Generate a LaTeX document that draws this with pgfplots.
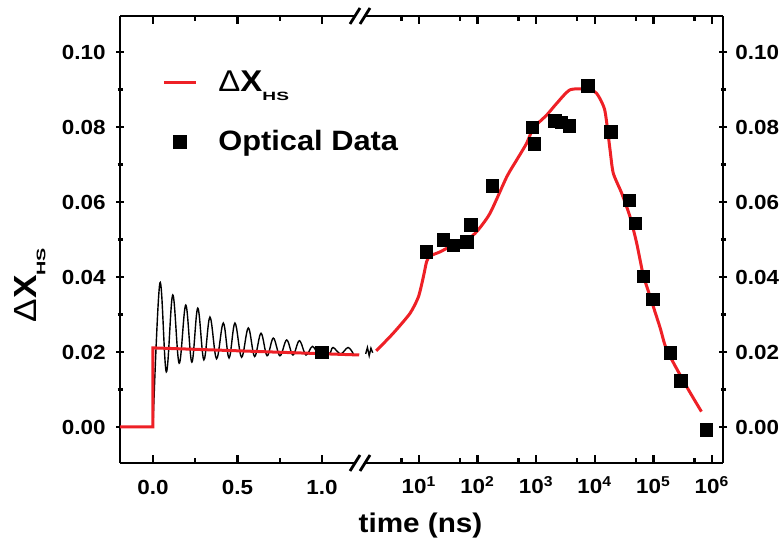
\documentclass[border=0pt]{standalone}
\usepackage{fontspec}
\setmainfont{Liberation Sans}[FakeStretch=1.1]
\usepackage{graphicx}
\usepackage{pgfplots}
\pgfplotsset{compat=1.18}
\definecolor{myred}{RGB}{238,32,38}
\newcommand{\dxhs}[3]{{\fontsize{#1}{#1}\selectfont{\mdseries Δ}X}\raisebox{#3}{\scalebox{1.45}[1]{\fontsize{#2}{#2}\selectfont HS}}}
\pgfplotsset{
  brk/.style={
    scale only axis, height=223.5pt,
    ymin=-0.0096, ymax=0.1096,
    tick align=inside,
    major tick length=4pt, minor tick length=2.5pt,
    every tick/.style={black, line width=1.2pt},
    ytick={0,0.02,0.04,0.06,0.08,0.10},
    yticklabels={0.00,0.02,0.04,0.06,0.08,0.10},
    minor ytick={0.01,0.03,0.05,0.07,0.09},
    tick label style={font=\bfseries\fontsize{10.2}{10.2}\selectfont},
  },
  killarrows/.style={
    every outer x axis line/.append style={-},
    every outer y axis line/.append style={-},
    every inner x axis line/.append style={-},
    every inner y axis line/.append style={-},
    axis line style={line width=1.4pt, -},
  },
  redleg/.style={legend image code/.code={\draw[##1] (0pt,0pt) -- (16pt,0pt);}},
  sqleg/.style={legend image code/.code={\draw[##1] plot coordinates {(8pt,0pt)};}},
}
\begin{document}
\begin{tikzpicture}
\useasboundingbox (0,0) rectangle (389.5pt,269.5pt);
% ---------- left (linear) part ----------
\begin{axis}[brk,
  at={(60pt,38pt)}, anchor=south west, width=117.5pt,
  xmin=-0.195, xmax=1.195,
  axis x line=box, axis y line=left, killarrows,
  xtick={0,0.5,1}, xticklabels={0.0,0.5,1.0},
  minor xtick={0.25,0.75},
  xticklabel style={inner sep=0pt, yshift=-8.5pt},
  yticklabel style={inner sep=0pt, xshift=-5pt},
  every axis y label/.style={at={(axis description cs:-0.383,0.398)}, rotate=90, anchor=center, font=\bfseries},
  ylabel={\dxhs{16pt}{6.2pt}{-4.5pt}},
  clip=false,
  legend style={draw=none, fill=none, at={(axis description cs:0.1787,0.879)}, anchor=north west,
    inner sep=0pt, row sep=18pt, column sep=10.5pt, font=\bfseries\fontsize{14}{14}\selectfont,
    nodes={inner sep=0pt}},
  legend cell align=left,
]
\addlegendimage{myred, line width=1.5pt, redleg}
\addlegendentry{\dxhs{15pt}{6pt}{-4.5pt}}
\addlegendimage{only marks, mark=square*, mark size=3.1pt, black, sqleg}
\addlegendentry{Optical Data}
% black oscillation
\addplot[black, line width=0.7pt, smooth, tension=0.6] coordinates {
 (0.0,0.0) (0.041,0.0384) (0.079,0.0147) (0.117,0.0352) (0.155,0.0170)
 (0.194,0.0325) (0.230,0.0173) (0.265,0.0317) (0.301,0.0179) (0.337,0.0293)
 (0.376,0.0182) (0.416,0.0277) (0.450,0.0184) (0.485,0.0277) (0.524,0.0186)
 (0.564,0.0264) (0.601,0.0188) (0.639,0.0250) (0.675,0.0190) (0.712,0.0237)
 (0.751,0.0190) (0.791,0.0232) (0.828,0.0192) (0.866,0.0230) (0.905,0.0192)
 (0.943,0.0215) (0.980,0.0195) (1.020,0.0210) (1.045,0.0195) (1.065,0.0212)
 (1.110,0.0195) (1.154,0.0212) (1.185,0.0195)
};
% red step
\addplot[myred, line width=1.5pt] coordinates {
 (-0.195,0) (0,0) (0,0.0211) (1.22,0.0192)
};
\addplot[only marks, mark=square*, mark size=3.1pt, black] coordinates {(1.0,0.0199)};
\end{axis}
% ---------- right (log) part ----------
\begin{axis}[brk,
  at={(182.5pt,38pt)}, anchor=south west, width=179pt,
  xmin=0.0785, xmax=6.188,
  axis x line=box, axis y line=right, killarrows,
  xtick={1,2,3,4,5,6},
  xticklabels={10\textsuperscript{1},10\textsuperscript{2},10\textsuperscript{3},10\textsuperscript{4},10\textsuperscript{5},10\textsuperscript{6}},
  minor xtick={0.699,1.699,2.699,3.699,4.699,5.699},
  xticklabel style={inner sep=0pt, yshift=-6.5pt},
  yticklabel style={inner sep=0pt, xshift=4pt},
  every axis x label/.style={at={(axis description cs:0.155,-0.139)}, anchor=center, font=\bfseries\fontsize{13.5}{13.5}\selectfont},
  xlabel={time (ns)},
]
\addplot[black, line width=0.7pt] coordinates {
 (0.09,0.0195) (0.12,0.0212) (0.15,0.0190) (0.18,0.0210) (0.21,0.0198)
};
\addplot[myred, line width=1.5pt, smooth, tension=0.4] coordinates {
 (0.27,0.0203) (0.56,0.0250) (0.846,0.0303) (0.99,0.0347) (1.074,0.0400)
 (1.13,0.0441) (1.19,0.0456) (1.36,0.0467)
 (1.53,0.0481) (1.814,0.0499) (1.985,0.0521) (2.212,0.0570) (2.497,0.0667)
 (2.667,0.0712) (2.838,0.0757) (2.952,0.0797) (3.18,0.0832) (3.35,0.0863)
 (3.577,0.0899) (3.89,0.0901) (4.03,0.0890) (4.17,0.0845) (4.26,0.0739)
 (4.315,0.0677) (4.46,0.0623) (4.6,0.0561) (4.715,0.0490) (4.83,0.0401)
 (4.87,0.0383) (5.11,0.0267) (5.23,0.0205) (5.57,0.0107) (5.82,0.0041)
};
\addplot[only marks, mark=square*, mark size=3.1pt, black] coordinates {
 (1.131,0.0467) (1.416,0.0499) (1.587,0.0485) (1.814,0.0494) (1.887,0.0539)
 (2.25,0.0643) (2.935,0.0799) (2.97,0.0755) (3.32,0.0816) (3.435,0.0812)
 (3.565,0.0803) (3.88,0.0910) (4.276,0.0787) (4.59,0.0605) (4.693,0.0543)
 (4.83,0.0401) (4.99,0.0341) (5.295,0.0198) (5.466,0.0123) (5.90,-0.0008)
};
\end{axis}
% axis break marks
\foreach \cx in {177.5pt,182.5pt}{
  \draw[line width=1.4pt] (\cx-2.5pt,261.5pt-4pt) -- (\cx+2.5pt,261.5pt+4pt);
  \draw[line width=1.4pt] (\cx-2.5pt,38pt-4pt) -- (\cx+2.5pt,38pt+4pt);
}
\end{tikzpicture}
\end{document}
